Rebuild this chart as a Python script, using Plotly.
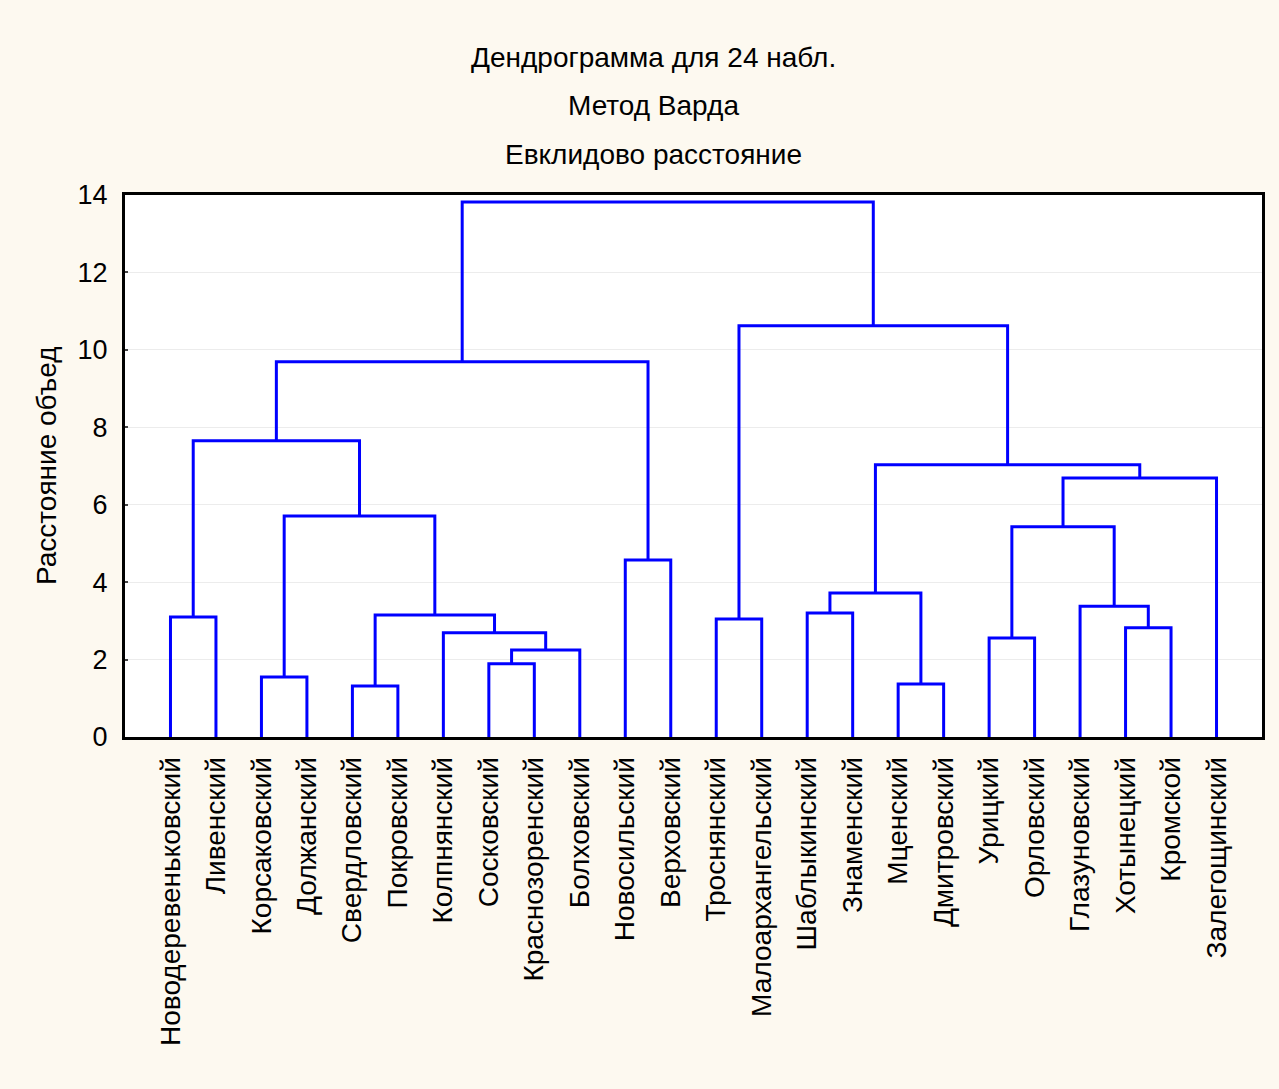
import plotly.graph_objects as go

# ---------------- data ----------------
leaf_labels = [
    "Новодеревеньковский", "Ливенский", "Корсаковский", "Должанский",
    "Свердловский", "Покровский", "Колпнянский", "Сосковский",
    "Краснозоренский", "Болховский", "Новосильский", "Верховский",
    "Троснянский", "Малоархангельский", "Шаблыкинский", "Знаменский",
    "Мценский", "Дмитровский", "Урицкий", "Орловский",
    "Глазуновский", "Хотынецкий", "Кромской", "Залегощинский",
]
# linkage: cluster ids 0..23 are leaves, 24.. are merges in this order
merge_left = [4, 16, 2, 7, 27, 18, 6, 21, 12, 0, 24, 14, 20, 35, 10, 29, 26, 39, 37, 33, 43, 32, 44]
merge_right = [5, 17, 3, 8, 9, 19, 28, 22, 13, 1, 30, 15, 31, 25, 11, 36, 34, 23, 41, 40, 38, 42, 45]
merge_height = [1.32, 1.37, 1.55, 1.89, 2.25, 2.56, 2.69, 2.82, 3.05, 3.10, 3.15, 3.20,
                3.38, 3.72, 4.57, 5.43, 5.71, 6.69, 7.03, 7.65, 9.69, 10.62, 13.82]
y_ticks = [0, 2, 4, 6, 8, 10, 12, 14]

title_lines = ["Дендрограмма для 24 набл.", "Метод Варда", "Евклидово расстояние"]
y_title = "Расстояние объед"

# ---------------- build dendrogram segments ----------------
n = len(leaf_labels)
pos = {i: float(i) for i in range(n)}
hgt = {i: 0.0 for i in range(n)}
xs, ys = [], []
for k, (a, b, h) in enumerate(zip(merge_left, merge_right, merge_height)):
    cid = n + k
    xa, xb = pos[a], pos[b]
    xs += [xa, xa, xb, xb, None]
    ys += [hgt[a], h, h, hgt[b], None]
    pos[cid] = (xa + xb) / 2
    hgt[cid] = h

FONT = "Liberation Sans, Arial, sans-serif"

fig = go.Figure()
fig.add_trace(go.Scatter(
    x=xs, y=ys, mode="lines",
    line=dict(color="#0000FF", width=3),
    hoverinfo="skip", showlegend=False,
))

W, H = 1279, 1089
L, R, T, B = 125, 17, 195, 352
plot_w = W - L - R

def paper_x(px):
    return (px - L) / plot_w

def paper_y(py):
    return 1 - (py - T) / (H - T - B)

annotations = []
for line, py in zip(title_lines, [57, 105, 154]):
    annotations.append(dict(
        text=line, xref="paper", yref="paper", x=paper_x(653), y=paper_y(py),
        xanchor="center", yanchor="middle", showarrow=False,
        font=dict(family=FONT, size=28, color="#000000"),
    ))
annotations.append(dict(
    text=y_title, xref="paper", yref="paper", x=paper_x(46), y=0.5,
    xanchor="center", yanchor="middle", textangle=-90, showarrow=False,
    font=dict(family=FONT, size=28, color="#000000"),
))

fig.update_layout(
    width=W, height=H,
    margin=dict(l=L, r=R, t=T, b=B, autoexpand=False),
    paper_bgcolor="#FDF9F0",
    plot_bgcolor="#FFFFFF",
    annotations=annotations,
    xaxis=dict(
        range=[-1, n], tickmode="array",
        tickvals=list(range(n)), ticktext=leaf_labels,
        tickangle=-90, showgrid=False, zeroline=False,
        showline=True, linecolor="#000000", linewidth=3, mirror=True,
        ticks="", ticklabelstandoff=6,
        tickfont=dict(family=FONT, size=28, color="#000000"),
        fixedrange=True,
    ),
    yaxis=dict(
        range=[0, 14], tickmode="array", tickvals=y_ticks,
        showgrid=True, gridcolor="#ECECEC", gridwidth=1, zeroline=False,
        showline=True, linecolor="#000000", linewidth=3, mirror=True,
        ticks="inside", ticklen=3, tickwidth=2, tickcolor="#444444",
        ticklabelstandoff=9,
        tickfont=dict(family=FONT, size=27, color="#000000"),
        fixedrange=True,
    ),
)

fig.write_html("out.html")
